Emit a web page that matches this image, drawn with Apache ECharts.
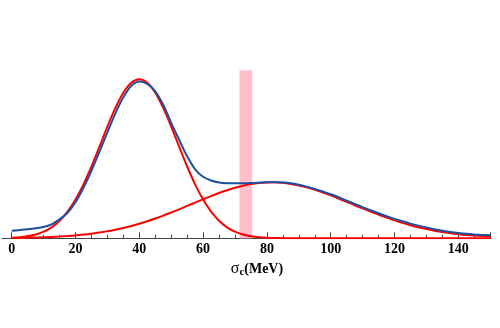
<!DOCTYPE html>
<html>
<head>
<meta charset="utf-8">
<script src="https://cdn.jsdelivr.net/npm/echarts@6/dist/echarts.min.js"></script>
<style>
  html, body { margin: 0; padding: 0; background: #fff; }
  #chart { width: 500px; height: 328px; }
</style>
</head>
<body>
<div id="chart"></div>
<script>
// sigma_c grid (MeV)
const xs = [0, 2.5, 5, 7.5, 10, 12.5, 15, 17.5, 20, 22.5, 25, 27.5, 30, 32.5, 35, 37.5,
  40, 42.5, 45, 47.5, 50, 52.5, 55, 57.5, 60, 62.5, 65, 67.5, 70, 72.5, 75, 77.5,
  80, 82.5, 85, 87.5, 90, 92.5, 95, 97.5, 100, 102.5, 105, 107.5, 110, 112.5, 115, 117.5,
  120, 122.5, 125, 127.5, 130, 132.5, 135, 137.5, 140, 142.5, 145, 147.5, 150];

// first red peak (narrow, ~40 MeV)
const redLow = [0.6, 1.1, 2.1, 3.8, 6.6, 11.0, 17.5, 26.6, 38.7, 53.9, 71.8, 91.6, 111.7, 130.4, 145.6, 155.5,
  159, 155.5, 145.6, 130.4, 111.7, 91.6, 71.8, 53.9, 38.7, 26.6, 17.5, 11.0, 6.6, 3.8, 2.1, 1.1,
  0.6, 0.3, 0.1, 0.05, 0, 0, 0, 0, 0, 0, 0, 0, 0, 0, 0, 0,
  0, 0, 0, 0, 0, 0, 0, 0, 0, 0, 0, 0, 0];

// second red peak (broad, ~82 MeV)
const redHigh = [0.3, 0.4, 0.6, 0.8, 1.0, 1.4, 1.8, 2.3, 2.9, 3.7, 4.6, 5.7, 7.1, 8.6, 10.3, 12.3,
  14.6, 17.1, 19.8, 22.7, 25.8, 29.0, 32.4, 35.7, 39.0, 42.2, 45.3, 48.0, 50.5, 52.6, 54.2, 55.3,
  55.9, 56.0, 55.5, 54.4, 52.9, 50.9, 48.6, 45.8, 42.9, 39.7, 36.4, 33.1, 30.0, 26.8, 23.7, 20.7,
  18.0, 15.4, 13.1, 11.0, 9.2, 7.6, 6.2, 5.1, 4.1, 3.3, 2.7, 2.2, 1.8];

// blue total curve
const blueTotal = [7.5, 8.2, 9.0, 10.0, 11.3, 14.0, 19.0, 25.5, 36.0, 50.5, 67.5, 86.5, 106.0, 125.0, 141.0, 152.5,
  156.8, 154.3, 147.0, 133.5, 115.5, 98.5, 82.0, 69.0, 61.5, 57.8, 55.8, 55.1, 55.0, 55.0, 55.2, 55.6,
  56.0, 56.1, 55.8, 55.0, 53.5, 51.7, 49.4, 46.8, 44.0, 41.0, 37.7, 34.4, 31.2, 28.0, 25.0, 22.1,
  19.4, 17.0, 14.7, 12.7, 10.9, 9.0, 7.5, 6.3, 5.3, 4.5, 3.9, 3.4, 3.0];

const tickLabels = [0, 20, 40, 60, 80, 100, 120, 140];
const bandX = [71.4, 75.4];
const bandTop = 168;

const pairs = (ys) => xs.map((x, i) => [x, ys[i]]);

const chart = echarts.init(document.getElementById("chart"), null, { renderer: "canvas" });

const serif = "'Liberation Serif', 'Times New Roman', serif";
const axisColor = "#444";

chart.setOption({
  animation: false,
  backgroundColor: "#fff",
  grid: [
    { left: 2, right: 9, top: 38.3, bottom: 89.7 },
    { left: 11.7, right: 9.8, top: 38.3, bottom: 89.7 },
  ],
  xAxis: [
    {
      gridIndex: 0,
      type: "value",
      min: 0,
      max: 1,
      axisLine: { show: true, lineStyle: { color: axisColor, width: 1 } },
      axisTick: { show: false },
      axisLabel: { show: false },
      splitLine: { show: false },
    },
    {
      gridIndex: 1,
      type: "value",
      min: 0,
      max: 150,
      interval: 20,
      axisLine: { show: false },
      axisTick: { show: true, inside: true, length: 6, lineStyle: { color: axisColor, width: 1 } },
      minorTick: { show: true, splitNumber: 4, length: 3.5, lineStyle: { color: axisColor, width: 1 } },
      axisLabel: {
        margin: 4,
        fontFamily: serif,
        fontWeight: "bold",
        fontSize: 14,
        color: "#000",
        formatter: (v) => (tickLabels.includes(v) ? String(v) : ""),
      },
      splitLine: { show: false },
      name: "{s|σ}{c|c}{m|(MeV)}",
      nameLocation: "middle",
      nameGap: 19,
      nameTextStyle: {
        padding: [0, 0, 0, 12],
        rich: {
          s: { fontFamily: serif, fontSize: 16, color: "#000" },
          c: { fontFamily: serif, fontSize: 11, fontWeight: "bold", color: "#000", padding: [5, 0, 0, 0] },
          m: { fontFamily: serif, fontSize: 14, fontWeight: "bold", color: "#000" },
        },
      },
    },
  ],
  yAxis: [
    { gridIndex: 0, type: "value", min: 0, max: 200, show: false },
    { gridIndex: 1, type: "value", min: 0, max: 200, show: false },
  ],
  series: [
    {
      type: "line",
      xAxisIndex: 1,
      yAxisIndex: 1,
      data: [],
      markArea: {
        silent: true,
        itemStyle: { color: "#ffc0cb" },
        data: [[{ xAxis: bandX[0], yAxis: 0 }, { xAxis: bandX[1], yAxis: bandTop }]],
      },
    },
    {
      type: "line",
      xAxisIndex: 1,
      yAxisIndex: 1,
      data: pairs(redLow),
      smooth: 0.3,
      showSymbol: false,
      lineStyle: { color: "#ff0000", width: 2 },
    },
    {
      type: "line",
      xAxisIndex: 1,
      yAxisIndex: 1,
      data: pairs(redHigh),
      smooth: 0.3,
      showSymbol: false,
      lineStyle: { color: "#ff0000", width: 2 },
    },
    {
      type: "line",
      xAxisIndex: 1,
      yAxisIndex: 1,
      data: pairs(blueTotal),
      smooth: 0.3,
      showSymbol: false,
      lineStyle: { color: "#1c4f9f", width: 2 },
    },
  ],
});
</script>
</body>
</html>
